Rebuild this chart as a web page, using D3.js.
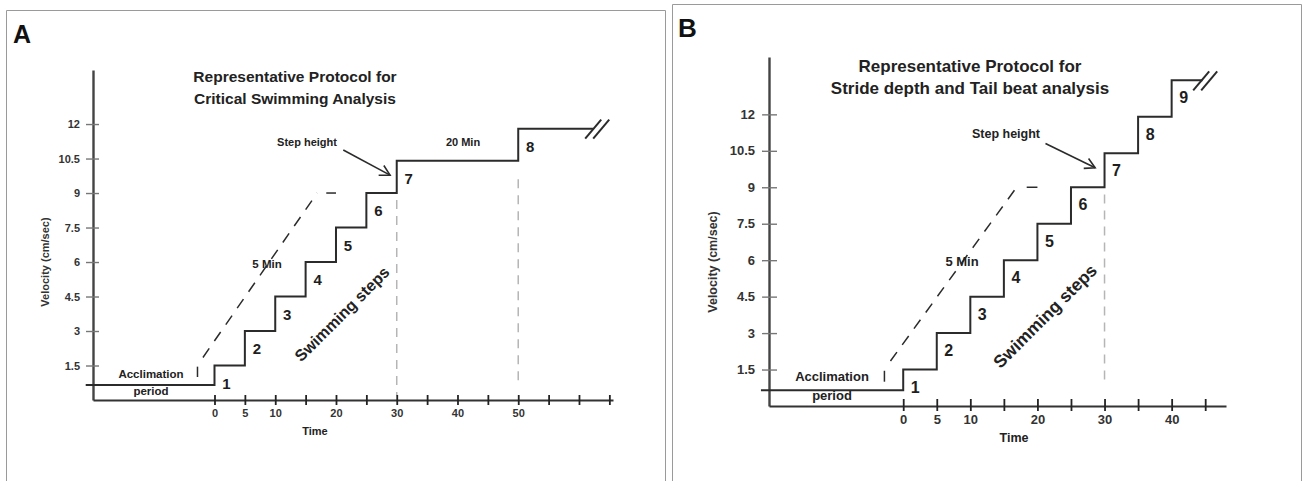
<!DOCTYPE html>
<html>
<head>
<meta charset="utf-8">
<script src="https://cdn.jsdelivr.net/npm/d3@7"></script>
<style>
  body { margin: 0; background: #fff; }
  svg { display: block; font-family: "Liberation Sans", Arial, sans-serif; font-weight: bold; }
</style>
</head>
<body>
<div id="chart"></div>
<script>
/** DATA */
// velocity ticks (cm/sec)
const velTicks = [1.5, 3, 4.5, 6, 7.5, 9, 10.5, 12];

// panel A: critical swimming protocol
const timeTicksA = [0, 5, 10, 15, 20, 25, 30, 35, 40, 45, 50, 55, 60, 65];
const timeLabelsA = [0, 5, 10, 20, 30, 40, 50];
const stepStartsA = [0, 5, 10, 15, 20, 25, 30, 50];
const stepLevelsA = [1.5, 3, 4.5, 6, 7.5, 9, 10.4, 11.8];
const stepEndA = 62.3;
const guideLinesA = [{ t: 30, v0: 0.2, v1: 8.7 }, { t: 50, v0: 0.55, v1: 9.6 }];

// panel B: stride depth / tail beat protocol
const timeTicksB = [0, 5, 10, 15, 20, 25, 30, 35, 40, 45];
const timeLabelsB = [0, 5, 10, 20, 30, 40];
const stepStartsB = [0, 5, 10, 15, 20, 25, 30, 35, 40];
const stepLevelsB = [1.5, 3, 4.5, 6, 7.5, 9, 10.4, 11.9, 13.4];
const stepEndB = 44.6;
const guideLinesB = [{ t: 30, v0: 0.8, v1: 8.7 }];

// acclimation period
const acclimStart = -21.2;
const acclimLevel = 0.65;

// "5 Min" ramp guide (time, velocity)
const rampTick = [[-2.8, 1.0], [-2.8, 1.45]];
const rampDiag = [[-1.9, 1.85], [16.9, 9]];
const rampFlat = [[18.4, 9], [20, 9]];

// step height arrow (time, velocity)
const arrowA = [[21.2, 10.87], [28.9, 9.78]];
const arrowB = [[21.2, 10.8], [28.6, 9.8]];

/** LAYOUT */
const width = 1303, height = 481;

const panels = [
  {
    letter: "A", letterPos: [13, 43], letterSize: 25,
    border: { x0: 6.5, x1: 665.5, y0: 10.5 },
    xRange: [93, 613], xDomain: [-20, 65.6],
    yRange: [400, 70], yDomain: [0, 14.35],
    timeTicks: timeTicksA, timeLabels: timeLabelsA,
    starts: stepStartsA, levels: stepLevelsA, stepEnd: stepEndA,
    guides: guideLinesA, arrow: arrowA,
    breakAt: [63.0, 11.8],
    font: 11, tickFont: 11, numFont: 15, titleFont: 15.5, swimFont: 16,
    yTick: [7, 6], xTick: [5, 5], yPad: 6, xPad: 4,
    title: ["Representative Protocol for", "Critical Swimming Analysis"],
    titleX: 295, titleY: [82, 104],
    yLabel: [45, 262], timeLabel: [315, 435],
    acclim: [151, 378, 395], fiveMin: [267, 268],
    stepHeight: [307, 146], twentyMin: [463, 146],
    swim: [342, 314]
  },
  {
    letter: "B", letterPos: [678, 37], letterSize: 26,
    border: { x0: 672.5, x1: 1301.5, y0: 4.5 },
    xRange: [769, 1226], xDomain: [-20, 48.1],
    yRange: [406, 57], yDomain: [0, 14.36],
    timeTicks: timeTicksB, timeLabels: timeLabelsB,
    starts: stepStartsB, levels: stepLevelsB, stepEnd: stepEndB,
    guides: guideLinesB, arrow: arrowB,
    breakAt: [45.0, 13.4],
    font: 12.5, tickFont: 13, numFont: 16, titleFont: 17, swimFont: 17.5,
    yTick: [7, 8], xTick: [5, 7], yPad: 7, xPad: 4,
    title: ["Representative Protocol for", "Stride depth and Tail beat analysis"],
    titleX: 970, titleY: [72, 94],
    yLabel: [713, 262], timeLabel: [1014, 442],
    acclim: [832, 381, 400], fiveMin: [962, 266],
    stepHeight: [1006, 138], twentyMin: null,
    swim: [1045, 316]
  }
];

const ink = "#2b2b2b";

const svg = d3.select("#chart")
  .append("svg")
  .attr("width", width)
  .attr("height", height);

svg.append("defs")
  .append("marker")
  .attr("id", "openArrow")
  .attr("viewBox", "-12 -7 14 14")
  .attr("markerWidth", 14)
  .attr("markerHeight", 14)
  .attr("markerUnits", "userSpaceOnUse")
  .attr("orient", "auto")
  .append("path")
  .attr("d", "M-10,-5.5 L0,0 L-10,5.5")
  .attr("fill", "none")
  .attr("stroke", ink)
  .attr("stroke-width", 1.6);

panels.forEach(p => {
  const g = svg.append("g");

  // panel frame (left, top, right)
  g.append("path")
    .attr("d", `M${p.border.x0},${height} V${p.border.y0} H${p.border.x1} V${height}`)
    .attr("fill", "none")
    .attr("stroke", "#9a9a9a")
    .attr("stroke-width", 1);

  /** SCALES */
  const x = d3.scaleLinear().domain(p.xDomain).range(p.xRange);
  const y = d3.scaleLinear().domain(p.yDomain).range(p.yRange);

  // guide lines behind the steps
  g.selectAll(".guide")
    .data(p.guides)
    .join("line")
    .attr("class", "guide")
    .attr("x1", d => x(d.t)).attr("x2", d => x(d.t))
    .attr("y1", d => y(d.v1)).attr("y2", d => y(d.v0))
    .attr("stroke", "#b5b5b5")
    .attr("stroke-width", 1.5)
    .attr("stroke-dasharray", "9,7");

  /** AXES */
  const yAxis = d3.axisLeft(y)
    .tickValues(velTicks)
    .tickFormat(d => d)
    .tickSize(p.yTick[0])
    .tickSizeOuter(0)
    .tickPadding(p.yPad);

  const ya = g.append("g")
    .attr("transform", `translate(${p.xRange[0]},0)`)
    .call(yAxis);
  ya.select(".domain").attr("stroke", "#444").attr("stroke-width", 2.4);
  ya.selectAll(".tick line").attr("x2", -p.yTick[0]).attr("x1", p.yTick[1])
    .attr("stroke", "#777").attr("stroke-width", 1.4);
  ya.selectAll(".tick text")
    .attr("fill", "#333")
    .style("font-size", p.tickFont + "px")
    .style("font-weight", "bold")
    .style("font-family", "'Liberation Sans', Arial, sans-serif");

  const xAxis = d3.axisBottom(x)
    .tickValues(p.timeTicks)
    .tickFormat(d => p.timeLabels.includes(d) ? d : "")
    .tickSize(p.xTick[0])
    .tickSizeOuter(0)
    .tickPadding(p.xPad);

  const xa = g.append("g")
    .attr("transform", `translate(0,${p.yRange[0]})`)
    .call(xAxis);
  xa.select(".domain").attr("stroke", "#333").attr("stroke-width", 2);
  xa.selectAll(".tick line").attr("y1", -p.xTick[1])
    .attr("stroke", "#222").attr("stroke-width", 1.8);
  xa.selectAll(".tick text")
    .attr("fill", "#333")
    .style("font-size", p.tickFont + "px")
    .style("font-weight", "bold")
    .style("font-family", "'Liberation Sans', Arial, sans-serif");

  /** STEPS */
  const stepPts = [[acclimStart, acclimLevel]]
    .concat(p.starts.map((s, i) => [s, p.levels[i]]))
    .concat([[p.stepEnd, p.levels[p.levels.length - 1]]]);

  const stepLine = d3.line()
    .x(d => x(d[0]))
    .y(d => y(d[1]))
    .curve(d3.curveStepAfter);

  g.append("path")
    .datum(stepPts)
    .attr("d", stepLine)
    .attr("fill", "none")
    .attr("stroke", ink)
    .attr("stroke-width", 2);

  // step numbers
  g.selectAll(".stepnum")
    .data(p.starts)
    .join("text")
    .attr("class", "stepnum")
    .attr("x", d => x(d) + 12)
    .attr("y", (d, i) => y(p.levels[i]) + 23)
    .attr("text-anchor", "middle")
    .attr("fill", "#1e1e1e")
    .style("font-size", p.numFont + "px")
    .text((d, i) => i + 1);

  // break mark at end of last step
  const bx = x(p.breakAt[0]), by = y(p.breakAt[1]);
  g.selectAll(".brk")
    .data([-4, 4])
    .join("line")
    .attr("class", "brk")
    .attr("x1", d => bx + d - 8).attr("y1", by + 10)
    .attr("x2", d => bx + d + 8).attr("y2", by - 9)
    .attr("stroke", ink)
    .attr("stroke-width", 2);

  /** RAMP GUIDE */
  const plain = d3.line().x(d => x(d[0])).y(d => y(d[1]));
  g.append("path").attr("d", plain(rampTick))
    .attr("stroke", ink).attr("stroke-width", 1.5).attr("fill", "none");
  g.append("path").attr("d", plain(rampDiag))
    .attr("stroke", ink).attr("stroke-width", 1.5).attr("fill", "none")
    .attr("stroke-dasharray", "11,9");
  g.append("path").attr("d", plain(rampFlat))
    .attr("stroke", ink).attr("stroke-width", 1.5).attr("fill", "none");

  /** ARROW */
  g.append("line")
    .attr("x1", x(p.arrow[0][0])).attr("y1", y(p.arrow[0][1]))
    .attr("x2", x(p.arrow[1][0])).attr("y2", y(p.arrow[1][1]))
    .attr("stroke", ink)
    .attr("stroke-width", 1.6)
    .attr("marker-end", "url(#openArrow)");

  /** TEXT */
  const label = (txt, px, py, size, anchor = "middle") =>
    g.append("text")
      .attr("x", px).attr("y", py)
      .attr("text-anchor", anchor)
      .attr("fill", "#222")
      .style("font-size", size + "px")
      .text(txt);

  label(p.letter, p.letterPos[0], p.letterPos[1], p.letterSize, "start").attr("fill", "#111");
  p.title.forEach((t, i) => label(t, p.titleX, p.titleY[i], p.titleFont));

  g.append("text")
    .attr("transform", `translate(${p.yLabel[0]},${p.yLabel[1]}) rotate(-90)`)
    .attr("text-anchor", "middle")
    .attr("dy", "0.35em")
    .attr("fill", "#333")
    .style("font-size", p.font + "px")
    .text("Velocity (cm/sec)");

  label("Time", p.timeLabel[0], p.timeLabel[1], p.font);
  label("Acclimation", p.acclim[0], p.acclim[1], p.font + 0.5);
  label("period", p.acclim[0], p.acclim[2], p.font + 0.5);
  label("5 Min", p.fiveMin[0], p.fiveMin[1], p.font + 0.5);
  label("Step height", p.stepHeight[0], p.stepHeight[1], p.font);
  if (p.twentyMin) label("20 Min", p.twentyMin[0], p.twentyMin[1], p.font);

  g.append("text")
    .attr("transform", `translate(${p.swim[0]},${p.swim[1]}) rotate(-45)`)
    .attr("text-anchor", "middle")
    .attr("dy", "0.35em")
    .attr("fill", "#222")
    .style("font-size", p.swimFont + "px")
    .text("Swimming steps");
});
</script>
</body>
</html>
